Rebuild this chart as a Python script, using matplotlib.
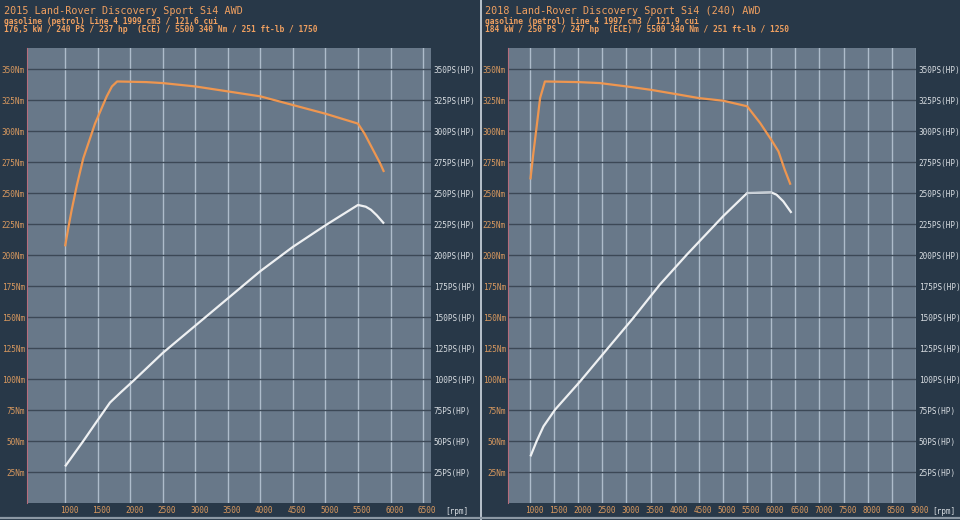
import matplotlib
matplotlib.use("Agg")
import matplotlib.pyplot as plt
import matplotlib.transforms as mtransforms
from matplotlib.ticker import FixedLocator, FuncFormatter

# --- data ---
titles_2015 = ["2015 Land-Rover Discovery Sport Si4 AWD",
               "gasoline (petrol) Line 4 1999 cm3 / 121,6 cui",
               "176,5 kW / 240 PS / 237 hp  (ECE) / 5500 340 Nm / 251 ft-lb / 1750"]
titles_2018 = ["2018 Land-Rover Discovery Sport Si4 (240) AWD",
               "gasoline (petrol) Line 4 1997 cm3 / 121,9 cui",
               "184 kW / 250 PS / 247 hp  (ECE) / 5500 340 Nm / 251 ft-lb / 1250"]

rpm_t_2015 = [1000, 1050, 1100, 1180, 1280, 1460, 1640, 1720, 1800, 2250, 2500,
              3000, 3500, 4000, 4500, 5000, 5500, 5600, 5730, 5840, 5900]
torque_2015 = [207, 222, 236, 256, 278, 306, 328, 336, 340, 339.5, 338.7,
               336, 332, 328, 321, 314, 306, 298, 285, 274, 267]
rpm_p_2015 = [1000, 1280, 1490, 1690, 1850, 2050, 2500, 3000, 3500, 4000,
              4500, 5000, 5500, 5620, 5700, 5790, 5900]
power_2015 = [29.5, 50, 66, 81, 89, 98.6, 121, 143, 165, 187,
              206.6, 224, 240.4, 239, 236.5, 232, 225.4]

rpm_t_2018 = [1010, 1070, 1140, 1210, 1240, 1310, 2000, 2450, 3000, 3500,
              4000, 4500, 5000, 5500, 5770, 6000, 6150, 6280, 6400]
torque_2018 = [261, 282, 304, 326.6, 330.6, 340, 339.5, 338.7, 336, 333.3,
               330, 326.6, 324.5, 320, 306.5, 293, 283.6, 268.8, 256.7]
rpm_p_2018 = [1010, 1140, 1280, 1520, 2040, 2590, 3140, 3690, 4250, 5000,
              5500, 6000, 6110, 6250, 6420]
power_2018 = [37.6, 50, 61.8, 75.3, 98.1, 123.7, 149.2, 176.1, 200.3, 231.2,
              250, 250.5, 248.7, 243.3, 234]

y_ticks = list(range(25, 351, 25))
x_ticks_2015 = list(range(1000, 6501, 500))
x_ticks_2018 = list(range(1000, 9001, 500))

# colours
BG = "#283848"
PLOT_BG = "#687889"
ORANGE = "#ee9650"
WHITE = "#eef0f2"
LABEL_OR = "#d9995f"
LABEL_LT = "#d6dbe0"
MONO = "DejaVu Sans Mono"

fig = plt.figure(figsize=(9.6, 5.2), dpi=100, facecolor=BG)


def panel(rect, xlim, xticks, rpm_t, torque, rpm_p, power, title_lines, title_x, rpm_x):
    ax = fig.add_axes(rect)
    ax.set_facecolor(PLOT_BG)
    ax.set_xlim(*xlim)
    ax.set_ylim(0, 367)
    for x in xticks:
        ax.axvline(x, color="#aebccb", lw=1.0, zorder=1)
    for y in y_ticks:
        ax.axhline(y, color="#3c4856", lw=1.0, zorder=1)
    for s in ["top", "right", "bottom"]:
        ax.spines[s].set_visible(False)
    ax.spines["left"].set_color("#b66d7c")
    ax.spines["left"].set_linewidth(0.8)

    ax.plot(rpm_t, torque, color=ORANGE, lw=1.6, zorder=3, solid_capstyle="butt")
    ax.plot(rpm_p, power, color=WHITE, lw=1.6, zorder=3, solid_capstyle="butt")

    ax.xaxis.set_major_locator(FixedLocator(xticks))
    ax.yaxis.set_major_locator(FixedLocator(y_ticks))
    ax.yaxis.set_major_formatter(FuncFormatter(lambda v, p: f"{int(v)}Nm"))
    ax.tick_params(axis="x", length=0, pad=2, labelsize=5.6, labelcolor=LABEL_OR)
    ax.tick_params(axis="y", length=0, pad=1.5, labelsize=5.6, labelcolor=LABEL_OR)
    offset = mtransforms.ScaledTranslation(4 / 100, 0, fig.dpi_scale_trans)
    for lab in ax.get_xticklabels():
        lab.set_fontfamily(MONO)
        lab.set_transform(lab.get_transform() + offset)
    for lab in ax.get_yticklabels():
        lab.set_fontfamily(MONO)

    ax2 = ax.twinx()
    ax2.set_ylim(ax.get_ylim())
    ax2.yaxis.set_major_locator(FixedLocator(y_ticks))
    ax2.yaxis.set_major_formatter(FuncFormatter(lambda v, p: f"{int(v)}PS(HP)"))
    ax2.tick_params(axis="y", length=0, pad=2, labelsize=5.6, labelcolor=LABEL_LT)
    for lab in ax2.get_yticklabels():
        lab.set_fontfamily(MONO)
    for s in ax2.spines.values():
        s.set_visible(False)

    fig.text(rpm_x / 960, 1 - 511 / 520, "[rpm]", ha="left", va="center",
             fontsize=5.6, color=LABEL_LT, family=MONO)

    fig.text(title_x / 960, 1 - 11 / 520, title_lines[0], ha="left", va="center",
             fontsize=7.3, color="#f0a060", family=MONO)
    fig.text(title_x / 960, 1 - 21 / 520, title_lines[1], ha="left", va="center",
             fontsize=5.7, color="#f0a060", family=MONO, fontweight="bold")
    fig.text(title_x / 960, 1 - 30 / 520, title_lines[2], ha="left", va="center",
             fontsize=5.7, color="#f0a060", family=MONO, fontweight="bold")
    return ax


ax_l = panel([27 / 960, 17 / 520, 404 / 960, 455 / 520], (415, 6622), x_ticks_2015,
             rpm_t_2015, torque_2015, rpm_p_2015, power_2015, titles_2015, 4, 445)
ax_r = panel([508 / 960, 17 / 520, 408 / 960, 455 / 520], (545, 9000), x_ticks_2018,
             rpm_t_2018, torque_2018, rpm_p_2018, power_2018, titles_2018, 485, 932)
# flat (interpolated) stretch of the 2018 power curve is drawn lighter
ax_r.plot(rpm_p_2018[10:12], power_2018[10:12], color="#c4ccd4", lw=1.2, zorder=4)

# panel separator and bottom border
fig.add_artist(plt.Line2D([481 / 960, 481 / 960], [0, 1], color="#b8c2cc", lw=1.4))
fig.add_artist(plt.Line2D([0, 1], [2 / 520, 2 / 520], color="#8c98a4", lw=1.6))

fig.savefig("out.png", dpi=100, facecolor=BG)
